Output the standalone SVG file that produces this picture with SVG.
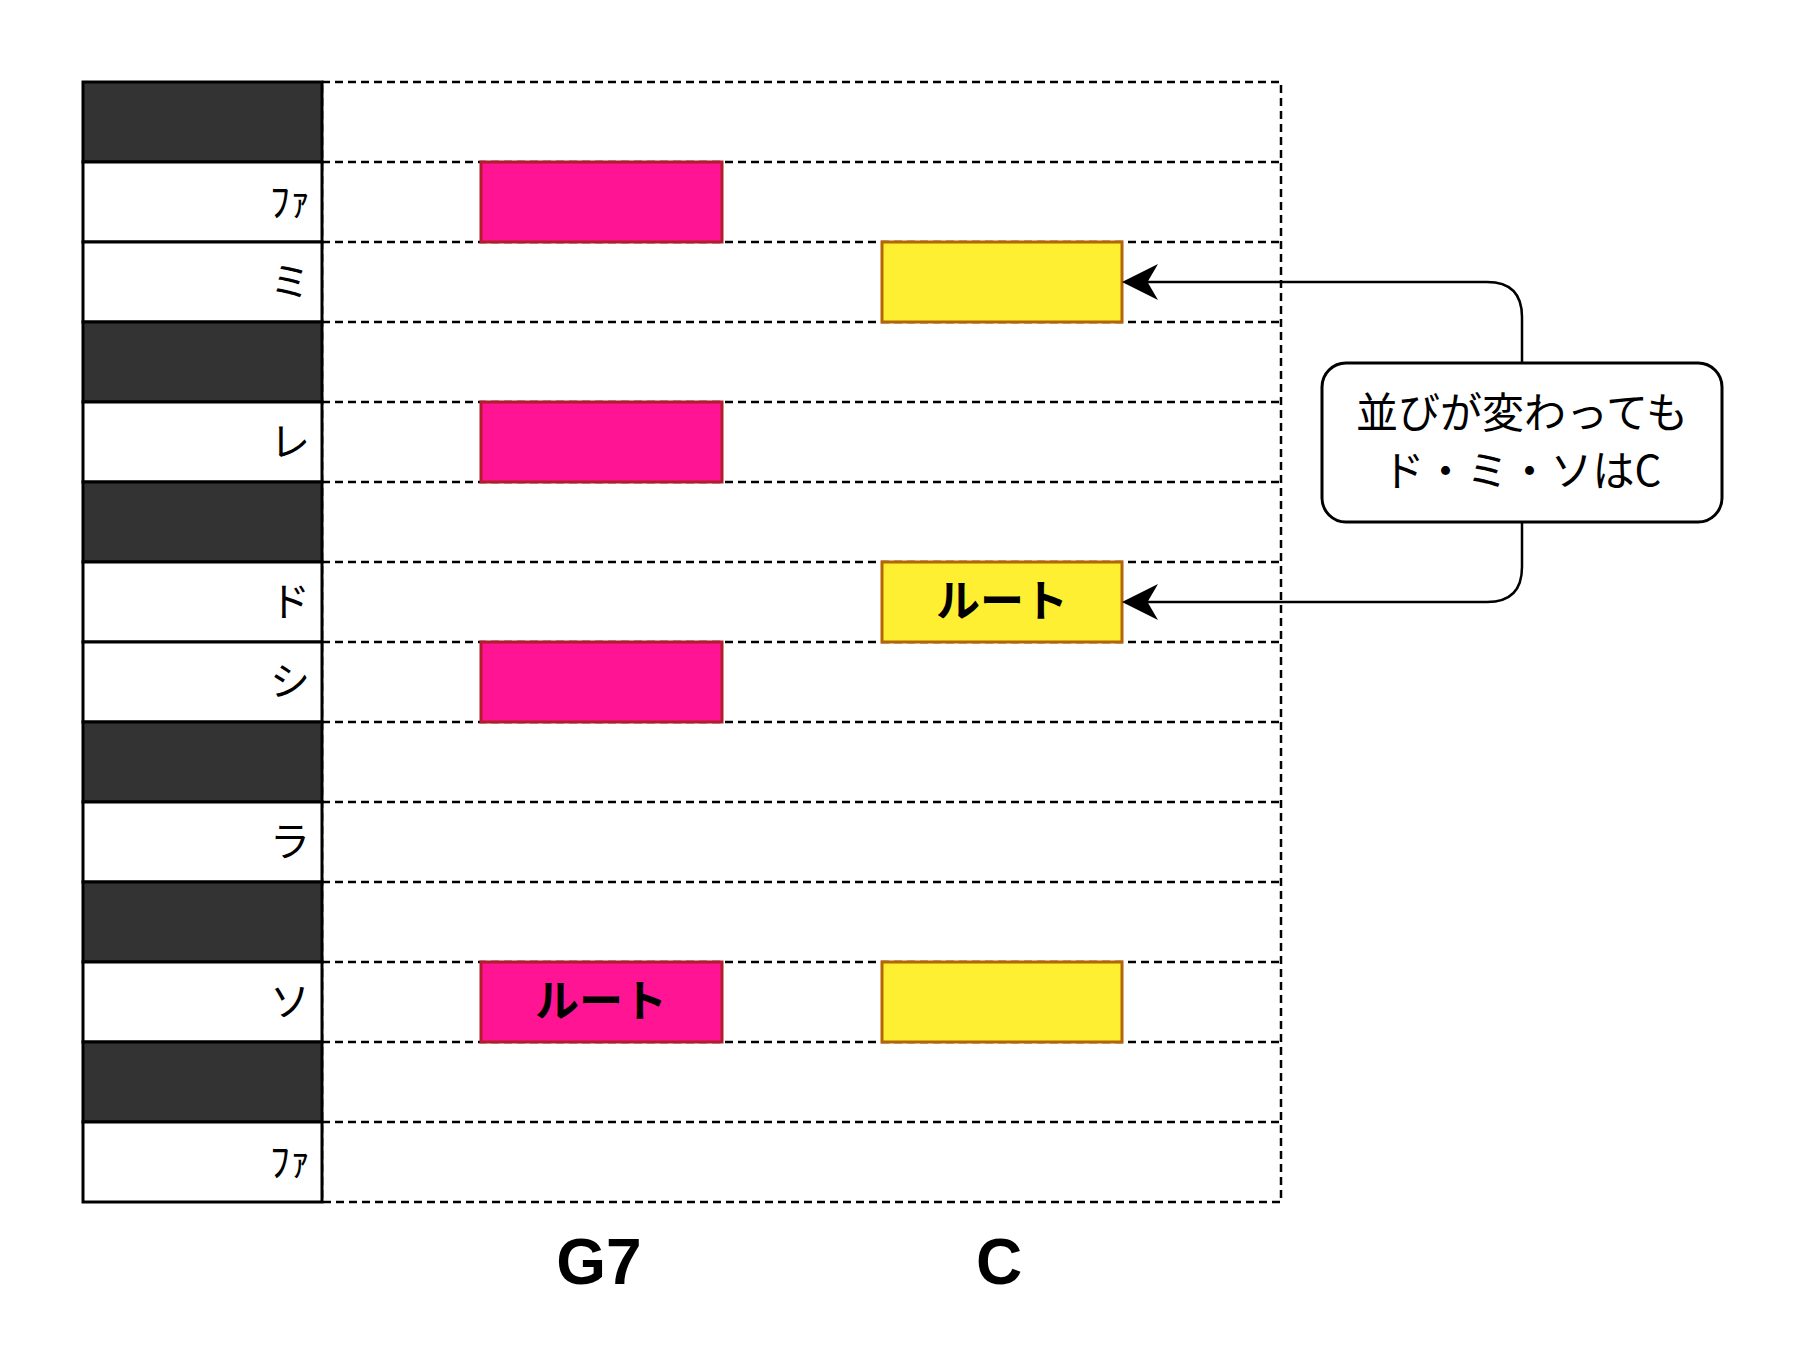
<svg xmlns="http://www.w3.org/2000/svg" width="1800" height="1360" viewBox="0 0 1800 1360">
<style>
.b{fill:#333333;stroke:#000;stroke-width:3}
.w{fill:#fff;stroke:#000;stroke-width:3}
.d{stroke:#000;stroke-width:2.5;stroke-dasharray:8 5;fill:none}
.k{font-family:"Noto Sans CJK JP","Noto Sans",sans-serif;font-size:40px;text-anchor:end}
.p{fill:#ff1493;stroke:#b21d2b;stroke-width:3}
.y{fill:#ffef33;stroke:#b46504;stroke-width:3}
.r{font-family:"Noto Sans CJK JP",sans-serif;font-size:44px;font-weight:bold;text-anchor:middle}
.c{font-family:"Liberation Sans",Arial,sans-serif;font-size:64px;font-weight:bold;text-anchor:middle}
</style>
<defs><marker id="a" viewBox="0 0 10 10" refX="9" refY="5" markerWidth="10" markerHeight="10" orient="auto" markerUnits="userSpaceOnUse"><path d="M0,0 L10,5 L0,10 L3,5 z" fill="#000"/></marker>
<marker id="m" viewBox="0 0 12 12" refX="11" refY="6" markerWidth="36" markerHeight="36" orient="auto" markerUnits="userSpaceOnUse"><path d="M0,0 L12,6 L0,12 L3.5,6 z" fill="#000"/></marker></defs>
<g id="grid">
<rect class="d" x="322" y="82" width="959" height="1120"/>
<path class="d" d="M322,162H1281M322,242H1281M322,322H1281M322,402H1281M322,482H1281M322,562H1281M322,642H1281M322,722H1281M322,802H1281M322,882H1281M322,962H1281M322,1042H1281M322,1122H1281"/>
</g>
<g id="keys">
<rect class="b" x="83" y="82" width="239" height="80"/>
<rect class="w" x="83" y="162" width="239" height="80"/>
<rect class="w" x="83" y="242" width="239" height="80"/>
<rect class="b" x="83" y="322" width="239" height="80"/>
<rect class="w" x="83" y="402" width="239" height="80"/>
<rect class="b" x="83" y="482" width="239" height="80"/>
<rect class="w" x="83" y="562" width="239" height="80"/>
<rect class="w" x="83" y="642" width="239" height="80"/>
<rect class="b" x="83" y="722" width="239" height="80"/>
<rect class="w" x="83" y="802" width="239" height="80"/>
<rect class="b" x="83" y="882" width="239" height="80"/>
<rect class="w" x="83" y="962" width="239" height="80"/>
<rect class="b" x="83" y="1042" width="239" height="80"/>
<rect class="w" x="83" y="1122" width="239" height="80"/>
<text class="k" x="310" y="216">ﾌｧ</text>
<text class="k" x="310" y="296">ミ</text>
<text class="k" x="310" y="456">レ</text>
<text class="k" x="310" y="616">ド</text>
<text class="k" x="310" y="696">シ</text>
<text class="k" x="310" y="856">ラ</text>
<text class="k" x="310" y="1016">ソ</text>
<text class="k" x="310" y="1176">ﾌｧ</text>
</g>
<g id="g7">
<rect class="p" x="481" y="162" width="241" height="80"/>
<rect class="p" x="481" y="402" width="241" height="80"/>
<rect class="p" x="481" y="642" width="241" height="80"/>
<rect class="p" x="481" y="962" width="241" height="80"/>
<text class="r" x="601" y="1017">ルート</text>
<text class="c" x="599" y="1284">G7</text>
</g>
<g id="c">
<rect class="y" x="882" y="242" width="240" height="80"/>
<rect class="y" x="882" y="562" width="240" height="80"/>
<rect class="y" x="882" y="962" width="240" height="80"/>
<text class="r" x="1002" y="617">ルート</text>
<text class="c" x="999" y="1284">C</text>
</g>
<g id="connectors" fill="none" stroke="#000" stroke-width="2.5">
<path d="M1522,363V317Q1522,282 1487,282H1125" marker-end="url(#m)"/>
<path d="M1522,522V567Q1522,602 1487,602H1125" marker-end="url(#m)"/>
</g>
<g id="callout">
<rect x="1322" y="363" width="400" height="159" rx="24" fill="#fff" stroke="#000" stroke-width="3"/>
<text font-family="'Noto Sans CJK JP',sans-serif" font-size="42" text-anchor="middle"><tspan x="1522" y="428">並びが変わっても</tspan><tspan x="1522" y="486">ド・ミ・ソはC</tspan></text>
</g>
</svg>
